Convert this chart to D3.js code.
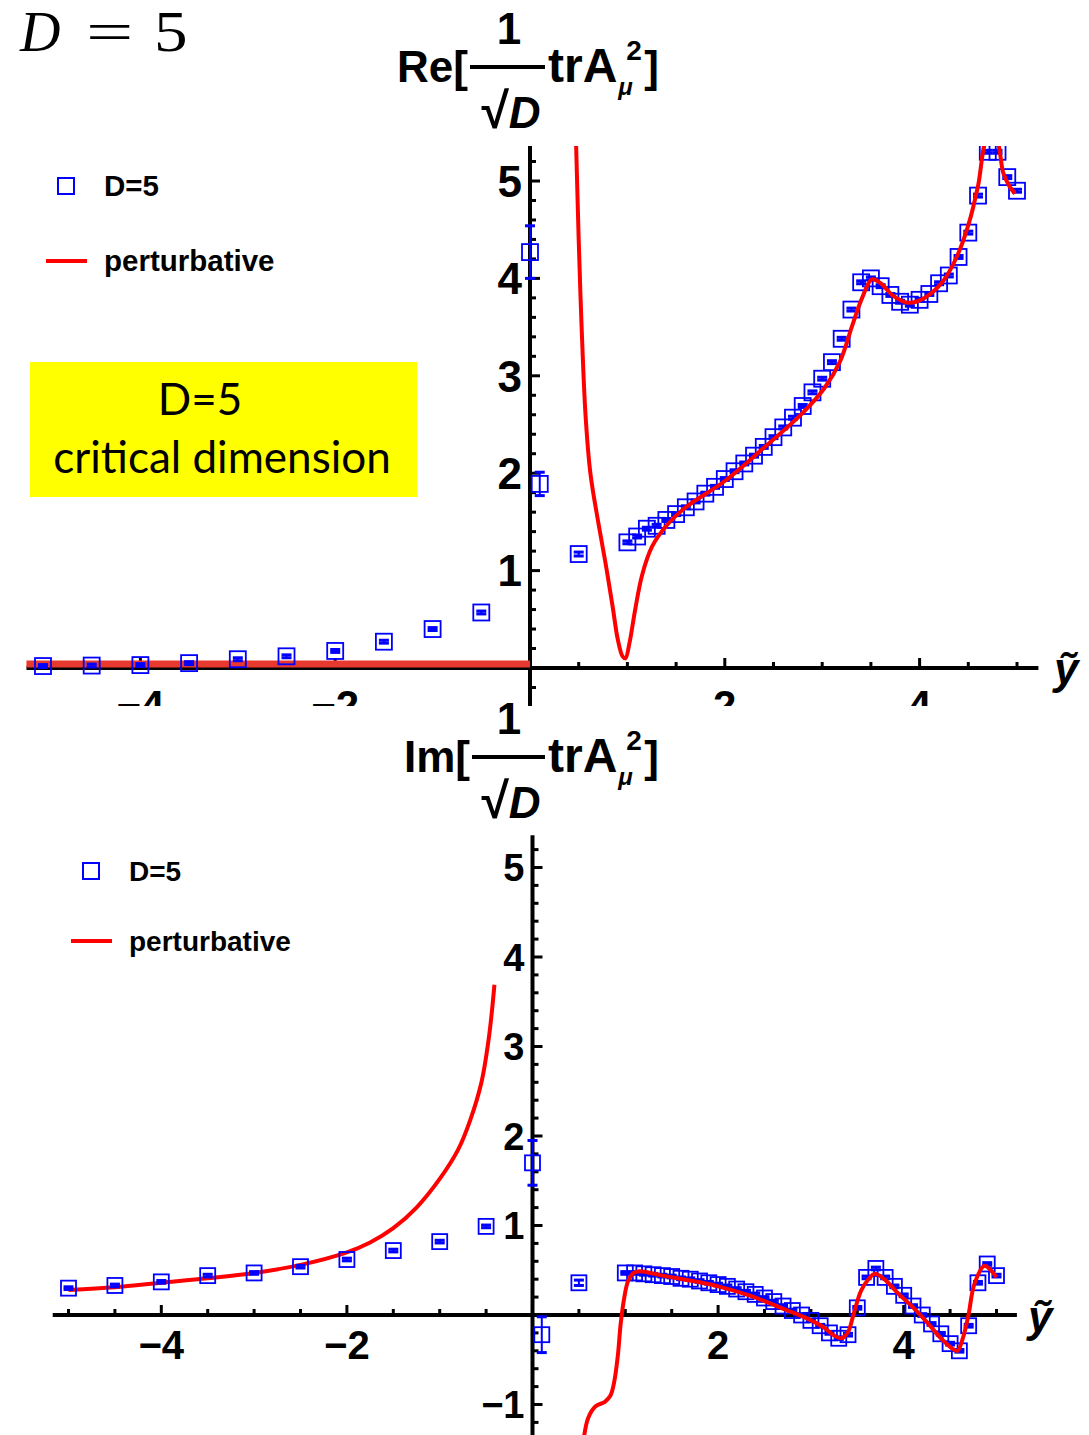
<!DOCTYPE html>
<meta charset="utf-8">
<style>
  body { margin: 0; background: #fff; }
  text { font-family: "Liberation Sans", Arial, sans-serif; }
  text.tex { font-family: "Liberation Serif", "Times New Roman", serif; font-size: 56px; }
</style>
<svg width="1089" height="1435"></svg>
<script src="https://d3js.org/d3.v7.min.js"></script>
<script>

    // lattice points: y-tilde positions, shared by both panels
    var latticeX = [-5, -4.5, -4, -3.5, -3, -2.5, -2, -1.5, -1, -0.5, 0, 0.1, 0.5,
        1.0, 1.1, 1.2, 1.3, 1.4, 1.5, 1.6, 1.7, 1.8, 1.9, 2.0, 2.1, 2.2, 2.3, 2.4, 2.5,
        2.6, 2.7, 2.8, 2.9, 3.0, 3.1, 3.2, 3.3, 3.4, 3.5, 3.6, 3.7, 3.8, 3.9, 4.0, 4.1,
        4.2, 4.3, 4.4, 4.5, 4.6, 4.7, 4.8, 4.9, 5.0];

    // Re part, lattice values and error bars
    var reValues = [0.02, 0.025, 0.03, 0.05, 0.09, 0.12, 0.175, 0.27, 0.40, 0.57, 4.27, 1.89, 1.17,
        1.29, 1.35, 1.43, 1.46, 1.52, 1.58, 1.65, 1.71, 1.79, 1.86, 1.94, 2.02, 2.10, 2.18, 2.27, 2.37,
        2.47, 2.57, 2.69, 2.83, 2.97, 3.14, 3.38, 3.68, 3.96, 4.00, 3.92, 3.83, 3.76, 3.73, 3.78, 3.84,
        3.95, 4.03, 4.22, 4.47, 4.85, 5.30, 5.30, 5.04, 4.90];
    var reErrors = [0.015, 0.015, 0.015, 0.015, 0.015, 0.015, 0.015, 0.015, 0.015, 0.015, 0.27, 0.12, 0.02,
        0.015, 0.015, 0.015, 0.015, 0.015, 0.015, 0.015, 0.015, 0.015, 0.015, 0.015, 0.015, 0.015, 0.015, 0.015, 0.015,
        0.015, 0.015, 0.015, 0.015, 0.015, 0.015, 0.015, 0.015, 0.015, 0.015, 0.015, 0.015, 0.015, 0.015, 0.015, 0.015,
        0.015, 0.015, 0.015, 0.015, 0.015, 0.015, 0.015, 0.015, 0.015];

    // Im part, lattice values and error bars
    var imValues = [0.30, 0.33, 0.37, 0.44, 0.47, 0.54, 0.62, 0.72, 0.82, 0.99, 1.70, -0.22, 0.36,
        0.47, 0.47, 0.46, 0.45, 0.44, 0.43, 0.41, 0.40, 0.38, 0.36, 0.34, 0.32, 0.29, 0.26, 0.23, 0.19,
        0.15, 0.10, 0.05, 0.00, -0.06, -0.12, -0.20, -0.26, -0.22, 0.08, 0.42, 0.52, 0.42, 0.32, 0.22, 0.10,
        0.00, -0.10, -0.21, -0.32, -0.40, -0.12, 0.36, 0.57, 0.44];
    var imErrors = [0.015, 0.015, 0.015, 0.015, 0.015, 0.015, 0.015, 0.015, 0.015, 0.015, 0.25, 0.2, 0.03,
        0.015, 0.015, 0.015, 0.015, 0.015, 0.015, 0.015, 0.015, 0.015, 0.015, 0.015, 0.015, 0.015, 0.015, 0.015, 0.015,
        0.015, 0.015, 0.015, 0.015, 0.015, 0.015, 0.015, 0.015, 0.015, 0.015, 0.015, 0.015, 0.015, 0.015, 0.015, 0.015,
        0.015, 0.015, 0.015, 0.015, 0.015, 0.015, 0.015, 0.015, 0.015];

    // perturbative curves, [y-tilde, value]
    var rePertNeg = [[-5.17, 0.04], [0, 0.04]];
    var rePertPos = [[0.47, 5.5], [0.5, 4.4], [0.53, 3.5], [0.57, 2.6], [0.62, 2.0], [0.7, 1.5], [0.78, 1.05],
        [0.85, 0.62], [0.9, 0.3], [0.95, 0.12], [0.98, 0.1], [1.02, 0.25], [1.08, 0.6], [1.15, 0.95],
        [1.25, 1.24], [1.4, 1.46], [1.6, 1.65], [2.0, 1.92], [2.4, 2.26], [2.8, 2.62], [3.02, 2.87],
        [3.18, 3.14], [3.31, 3.52], [3.41, 3.8], [3.51, 3.99], [3.6, 3.95], [3.73, 3.82], [3.88, 3.75],
        [4.05, 3.8], [4.24, 3.97], [4.39, 4.24], [4.51, 4.58], [4.6, 4.95], [4.7, 5.45], [4.78, 5.45],
        [4.86, 5.08], [4.92, 4.95], [4.98, 4.87]];
    var imPertNeg = [[-5, 0.28], [-4.5, 0.31], [-4, 0.36], [-3.5, 0.41], [-3, 0.47], [-2.5, 0.56], [-2, 0.70],
        [-1.75, 0.81], [-1.5, 0.97], [-1.25, 1.2], [-1, 1.52], [-0.8, 1.85], [-0.67, 2.18], [-0.55, 2.6],
        [-0.47, 3.1], [-0.41, 3.69]];
    var imPertPos = [[0.55, -1.4], [0.6, -1.15], [0.68, -1.02], [0.78, -0.97], [0.84, -0.9], [0.88, -0.75],
        [0.92, -0.45], [0.95, -0.1], [0.99, 0.2], [1.03, 0.38], [1.09, 0.47], [1.15, 0.49], [1.4, 0.44],
        [1.78, 0.37], [2.0, 0.32], [2.36, 0.21], [2.75, 0.05], [2.94, -0.03], [3.14, -0.14], [3.25, -0.23],
        [3.33, -0.26], [3.4, -0.19], [3.46, 0.01], [3.54, 0.27], [3.62, 0.4], [3.69, 0.46], [3.79, 0.4],
        [3.95, 0.23], [4.1, 0.085], [4.25, -0.08], [4.41, -0.27], [4.53, -0.38], [4.58, -0.40], [4.64, -0.25],
        [4.7, 0.01], [4.76, 0.34], [4.87, 0.55], [4.93, 0.51], [5.0, 0.42]];

    // tick values
    var xMajorTicks = [-4, -2, 2, 4];
    var xMinorTicks = [-5, -4.5, -3.5, -3, -2.5, -1.5, -1, -0.5, 0.5, 1, 1.5, 2.5, 3, 3.5, 4.5, 5];
    var reYTicks = [1, 2, 3, 4, 5];
    var imYTicks = [-1, 1, 2, 3, 4, 5];
    var reYMinor = [-0.2, 0.2, 0.4, 0.6, 0.8, 1.2, 1.4, 1.6, 1.8, 2.2, 2.4, 2.6, 2.8, 3.2, 3.4, 3.6, 3.8, 4.2, 4.4, 4.6, 4.8, 5.2];
    var imYMinor = [-1.2, -0.8, -0.6, -0.4, -0.2, 0.2, 0.4, 0.6, 0.8, 1.2, 1.4, 1.6, 1.8, 2.2, 2.4, 2.6, 2.8,
        3.2, 3.4, 3.6, 3.8, 4.2, 4.4, 4.6, 4.8, 5.2];

    var legendLabels = ["D=5", "perturbative"];
    var noteLines = ["D=5", "critical dimension"];

    var svg = d3.select("svg");

    var blue = "#0000ff", red = "#ff0000";

    // "D = 5" in the corner, TeX style
    svg.append("text").attr("class", "tex").attr("x", 20).attr("y", 51)
        .style("font-style", "italic").text("D");
    svg.append("text").attr("class", "tex").attr("transform", "translate(86,51) scale(1.5,1)").text("=");
    svg.append("text").attr("class", "tex").attr("transform", "translate(154,51) scale(1.2,1)").text("5");

    // draws one panel (Re or Im)
    var drawPanel = function (p) {
        var g = svg.append("g");
        if (p.clipBottom) {
            svg.append("clipPath").attr("id", p.id + "clip")
                .append("rect").attr("x", 0).attr("y", 0).attr("width", 1089).attr("height", p.clipBottom);
            g.attr("clip-path", "url(#" + p.id + "clip)");
        }

        var x = d3.scaleLinear().domain([-5, 5]).range([p.x0 - 5 * p.ux, p.x0 + 5 * p.ux]);
        var y = d3.scaleLinear().domain([0, 5]).range([p.y0, p.y0 - 5 * p.uy]);

        svg.append("clipPath").attr("id", p.id + "plot")
            .append("rect").attr("x", 0).attr("y", y(p.yTop)).attr("width", 1089).attr("height", 1435);

        // axes
        g.append("line")
            .attr("x1", x(-5.17)).attr("x2", x(5.22))
            .attr("y1", y(0)).attr("y2", y(0))
            .attr("stroke", "black").attr("stroke-width", 4);
        g.append("line")
            .attr("x1", x(0)).attr("x2", x(0))
            .attr("y1", y(p.yTop)).attr("y2", y(p.yBottom))
            .attr("stroke", "black").attr("stroke-width", 4);

        g.selectAll(".xmaj").data(xMajorTicks).enter().append("line")
            .attr("x1", function (d) { return x(d); }).attr("x2", function (d) { return x(d); })
            .attr("y1", y(0)).attr("y2", y(0) - 10)
            .attr("stroke", "black").attr("stroke-width", 3);
        g.selectAll(".xmin").data(xMinorTicks).enter().append("line")
            .attr("x1", function (d) { return x(d); }).attr("x2", function (d) { return x(d); })
            .attr("y1", y(0)).attr("y2", y(0) - 6)
            .attr("stroke", "black").attr("stroke-width", 3);
        g.selectAll(".ymaj").data(p.yTicks).enter().append("line")
            .attr("x1", x(0)).attr("x2", x(0) + 10)
            .attr("y1", function (d) { return y(d); }).attr("y2", function (d) { return y(d); })
            .attr("stroke", "black").attr("stroke-width", 3);
        g.selectAll(".ymin").data(p.yMinor).enter().append("line")
            .attr("x1", x(0)).attr("x2", x(0) + 6)
            .attr("y1", function (d) { return y(d); }).attr("y2", function (d) { return y(d); })
            .attr("stroke", "black").attr("stroke-width", 3);

        g.selectAll(".xlab").data(xMajorTicks).enter().append("text")
            .attr("x", function (d) { return x(d); })
            .attr("y", y(0) + p.xLabelDy)
            .attr("text-anchor", "middle")
            .style("font-weight", "bold").style("font-size", p.labelSize + "px")
            .text(function (d) { return d < 0 ? "\u2212" + (-d) : d; });
        g.selectAll(".ylab").data(p.yTicks).enter().append("text")
            .attr("x", x(0) - 8)
            .attr("y", function (d) { return y(d) + p.yLabelSize * 0.36; })
            .attr("text-anchor", "end")
            .style("font-weight", "bold").style("font-size", p.yLabelSize + "px")
            .text(function (d) { return d < 0 ? "\u2212" + (-d) : d; });

        g.append("text")
            .attr("x", p.yt[0]).attr("y", p.yt[1])
            .style("font-weight", "bold").style("font-style", "italic").style("font-size", "44px")
            .text("\u1ef9");

        var plot = g.append("g").attr("clip-path", "url(#" + p.id + "plot)");

        var line = d3.line()
            .x(function (d) { return x(d[0]); })
            .y(function (d) { return y(d[1]); })
            .curve(d3.curveCatmullRom.alpha(0.5));

        if (p.flatNeg) {
            plot.append("path").attr("d", line(p.pertNeg))
                .attr("fill", "none").attr("stroke", "#e8392e").attr("stroke-width", 7);
        } else {
            plot.append("path").attr("d", line(p.pertNeg))
                .attr("fill", "none").attr("stroke", red).attr("stroke-width", 4);
        }

        var pts = latticeX.map(function (xv, i) {
            return {x: xv, v: p.values[i], e: p.errors[i]};
        });

        var pg = plot.selectAll(".pt").data(pts).enter().append("g");
        pg.append("line")
            .attr("x1", function (d) { return x(d.x); }).attr("x2", function (d) { return x(d.x); })
            .attr("y1", function (d) { return y(d.v - d.e); }).attr("y2", function (d) { return y(d.v + d.e); })
            .attr("stroke", blue).attr("stroke-width", 2);
        pg.append("line")
            .attr("x1", function (d) { return x(d.x) - 5; }).attr("x2", function (d) { return x(d.x) + 5; })
            .attr("y1", function (d) { return y(d.v - d.e); }).attr("y2", function (d) { return y(d.v - d.e); })
            .attr("stroke", blue).attr("stroke-width", 3);
        pg.append("line")
            .attr("x1", function (d) { return x(d.x) - 5; }).attr("x2", function (d) { return x(d.x) + 5; })
            .attr("y1", function (d) { return y(d.v + d.e); }).attr("y2", function (d) { return y(d.v + d.e); })
            .attr("stroke", blue).attr("stroke-width", 3);
        pg.append("rect")
            .attr("x", function (d) { return x(d.x) - p.sq / 2; })
            .attr("y", function (d) { return y(d.v) - p.sq / 2; })
            .attr("width", p.sq).attr("height", p.sq)
            .attr("fill", "none").attr("stroke", blue).attr("stroke-width", 1.8);

        plot.append("path").attr("d", line(p.pertPos))
            .attr("fill", "none").attr("stroke", red).attr("stroke-width", 4);

        // legend
        g.append("rect")
            .attr("x", p.leg[0] - 8).attr("y", p.leg[1] - 8).attr("width", 16).attr("height", 16)
            .attr("fill", "none").attr("stroke", blue).attr("stroke-width", 2);
        g.append("line")
            .attr("x1", p.leg[0] - 20).attr("x2", p.leg[0] + 21)
            .attr("y1", p.leg[1] + p.legGap).attr("y2", p.leg[1] + p.legGap)
            .attr("stroke", red).attr("stroke-width", 4);
        g.selectAll(".leg").data(legendLabels).enter().append("text")
            .attr("x", p.leg[0] + 38)
            .attr("y", function (d, i) { return p.leg[1] + 10 + i * p.legGap; })
            .style("font-weight", "bold").style("font-size", p.legSize + "px")
            .text(function (d) { return d; });

        // title: part[ 1/sqrt(D) trA_mu^2 ]
        var t = svg.append("g").attr("transform", "translate(0," + p.titleDy + ")")
            .style("font-weight", "bold").style("font-size", "44px");
        t.append("text").attr("x", p.titleEnd).attr("y", 82).attr("text-anchor", "end").text(p.part + "[");
        t.append("text").attr("x", 509).attr("y", 44).attr("text-anchor", "middle").text("1");
        t.append("line").attr("x1", p.titleEnd + 2).attr("x2", 545).attr("y1", 67).attr("y2", 67)
            .attr("stroke", "black").attr("stroke-width", 4);
        var sq = t.append("text").attr("x", 511).attr("y", 128).attr("text-anchor", "middle");
        sq.append("tspan").style("font-size", "50px").text("\u221a");
        sq.append("tspan").style("font-style", "italic").text("D");
        var tr = t.append("text").attr("x", 548).attr("y", 82).style("font-size", "48px").text("trA");
        var trEnd = 548 + tr.node().getComputedTextLength();
        t.append("text").attr("x", trEnd + 1).attr("y", 95).style("font-size", "24px").style("font-style", "italic").text("\u03bc");
        t.append("text").attr("x", trEnd + 9).attr("y", 60).style("font-size", "28px").text("2");
        t.append("text").attr("x", trEnd + 27).attr("y", 82).text("]");
    };

    drawPanel({
        id: "re", part: "Re", titleDy: 0, titleEnd: 468,
        x0: 530, ux: 97.4, y0: 668, uy: 97.4, yTop: 5.36, yBottom: -0.45,
        clipBottom: 706, xLabelDy: 52, labelSize: 42, yLabelSize: 44,
        yTicks: reYTicks, yMinor: reYMinor, yt: [1054, 684],
        values: reValues, errors: reErrors, sq: 16,
        pertNeg: rePertNeg, pertPos: rePertPos, flatNeg: true,
        leg: [66, 186], legGap: 75, legSize: 29.5
    });

    drawPanel({
        id: "im", part: "Im", titleDy: 690, titleEnd: 470,
        x0: 532.5, ux: 92.8, y0: 1315, uy: 89.5, yTop: 5.36, yBottom: -1.4,
        clipBottom: null, xLabelDy: 44, labelSize: 40, yLabelSize: 38,
        yTicks: imYTicks, yMinor: imYMinor, yt: [1028, 1332],
        values: imValues, errors: imErrors, sq: 15,
        pertNeg: imPertNeg, pertPos: imPertPos, flatNeg: false,
        leg: [91, 871], legGap: 70, legSize: 28
    });

    // yellow note box
    var note = svg.append("g");
    note.append("rect")
        .attr("x", 30).attr("y", 362).attr("width", 387).attr("height", 135)
        .attr("fill", "#ffff00");
    note.selectAll("text").data(noteLines).enter().append("text")
        .attr("x", function (d, i) { return i === 0 ? 200 : 222; })
        .attr("y", function (d, i) { return 415 + i * 58; })
        .attr("text-anchor", "middle")
        .style("font-family", "Lato, 'Open Sans', sans-serif")
        .style("font-size", "44px")
        .text(function (d) { return d; });

</script>
